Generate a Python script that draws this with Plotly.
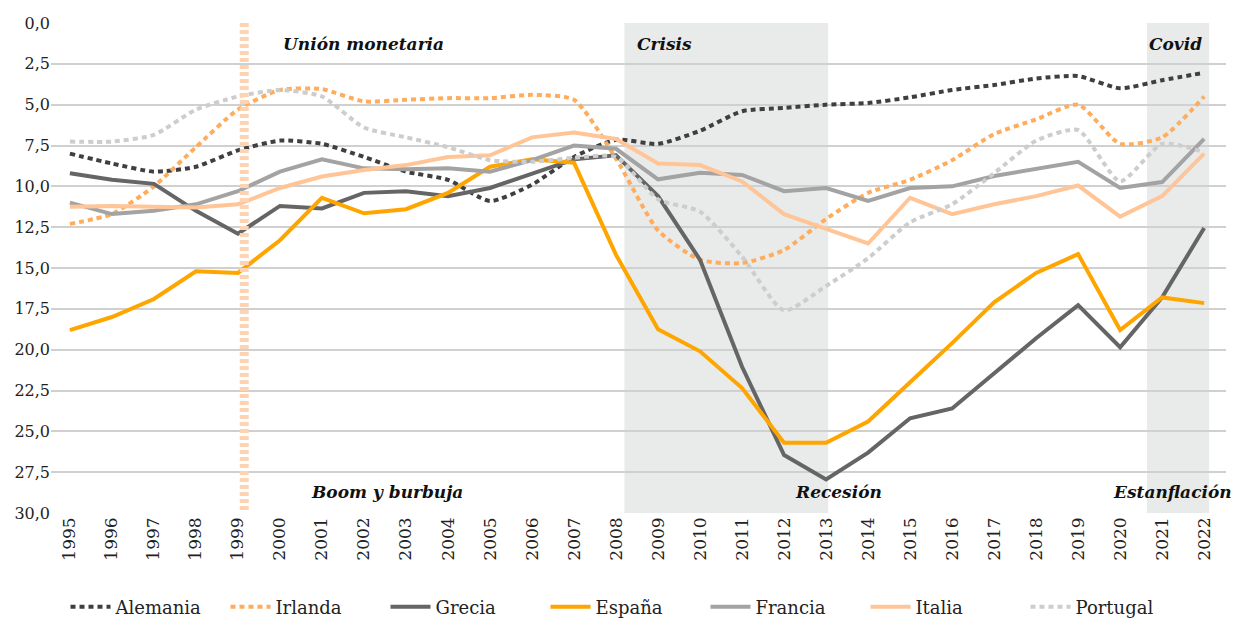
import plotly.graph_objects as go

# Years and series values
years = list(range(1995, 2023))

alemania = [8.0, 8.6, 9.1, 8.8, 7.8, 7.2, 7.4, 8.2, 9.1, 9.6, 10.9, 9.9, 8.2, 7.15,
            7.4, 6.6, 5.4, 5.2, 5.0, 4.9, 4.55, 4.1, 3.8, 3.4, 3.25, 4.0, 3.5, 3.05]
irlanda = [12.3, 11.7, 10.0, 7.6, 5.3, 4.1, 4.05, 4.8, 4.7, 4.6, 4.6, 4.4, 4.7, 8.3,
           12.7, 14.5, 14.7, 13.9, 12.0, 10.4, 9.6, 8.4, 6.8, 5.9, 5.0, 7.4, 7.0, 4.5]
grecia = [9.2, 9.6, 9.85, 11.5, 12.9, 11.2, 11.35, 10.4, 10.3, 10.6, 10.1, 9.2, 8.35, 8.1,
          10.6, 14.5, 21.05, 26.45, 27.95, 26.3, 24.2, 23.6, 21.45, 19.3, 17.27, 19.85, 16.8, 12.55]
espana = [18.8, 18.0, 16.9, 15.2, 15.3, 13.3, 10.7, 11.65, 11.4, 10.4, 8.8, 8.35, 8.55, 14.2,
          18.75, 20.1, 22.35, 25.7, 25.7, 24.4, 22.0, 19.6, 17.1, 15.3, 14.15, 18.8, 16.8, 17.15]
francia = [11.0, 11.7, 11.5, 11.1, 10.3, 9.1, 8.35, 8.9, 8.95, 8.9, 9.1, 8.4, 7.5, 7.7,
           9.57, 9.17, 9.3, 10.3, 10.1, 10.9, 10.1, 10.0, 9.37, 8.96, 8.5, 10.1, 9.74, 7.1]
italia = [11.25, 11.2, 11.25, 11.3, 11.1, 10.1, 9.4, 9.0, 8.7, 8.2, 8.1, 7.0, 6.7, 7.1,
          8.6, 8.7, 9.7, 11.7, 12.6, 13.5, 10.7, 11.7, 11.1, 10.6, 9.95, 11.85, 10.6, 8.0]
portugal = [7.26, 7.26, 6.85, 5.3, 4.5, 4.1, 4.5, 6.4, 7.0, 7.6, 8.4, 8.5, 8.25, 8.2,
            10.8, 11.55, 14.3, 17.6, 16.1, 14.4, 12.2, 11.1, 9.2, 7.2, 6.55, 9.7, 7.4, 7.9]

y_ticks = [0, 2.5, 5, 7.5, 10, 12.5, 15, 17.5, 20, 22.5, 25, 27.5, 30]
y_labels = [f"{v:.1f}".replace(".", ",") for v in y_ticks]

FONT = "DejaVu Serif"

series = [
    ("Alemania", alemania, "#3f3f3f", "dot"),
    ("Irlanda", irlanda, "#ffac5c", "dot"),
    ("Grecia", grecia, "#656565", "solid"),
    ("España", espana, "#ffa500", "solid"),
    ("Francia", francia, "#a3a3a3", "solid"),
    ("Italia", italia, "#ffc597", "solid"),
    ("Portugal", portugal, "#cdcdcd", "dot"),
]

fig = go.Figure()

for name, vals, color, style in series:
    if style == "dot":
        line = dict(color=color, width=4, dash="5px,4px", shape="spline", smoothing=0.6)
    else:
        line = dict(color=color, width=4)
    fig.add_trace(go.Scatter(x=years, y=vals, name=name, mode="lines", line=line))

# shaded periods
for x0, x1 in [(2008.2, 2013.05), (2020.64, 2022.12)]:
    fig.add_shape(type="rect", xref="x", yref="y", x0=x0, x1=x1, y0=0, y1=30,
                  fillcolor="#e9ebea", line_width=0, layer="below")

# euro start marker
fig.add_shape(type="line", xref="x", yref="y", x0=1999.15, x1=1999.15, y0=0, y1=30,
              line=dict(color="#fdd3b3", width=9, dash="4px,3px"), layer="above")

notes = [
    ("Unión monetaria", 2002.0, 1.3, "center"),
    ("Boom y burbuja", 2002.55, 28.7, "center"),
    ("Crisis", 2008.45, 1.3, "left"),
    ("Recesión", 2013.3, 28.7, "center"),
    ("Covid", 2022.0, 1.3, "right"),
    ("Estanflación", 2021.25, 28.7, "center"),
]
for text, x, y, align in notes:
    fig.add_annotation(x=x, y=y, xref="x", yref="y", text=f"<b><i>{text}</i></b>",
                       showarrow=False, xanchor=align,
                       font=dict(family=FONT, size=17, color="#111111"))

# page body adds 8px offset, so the figure is drawn slightly smaller
fig.update_layout(
    width=1235, height=613,
    margin=dict(l=43, r=17, t=15, b=108, autoexpand=False),
    plot_bgcolor="white", paper_bgcolor="white",
    font=dict(family=FONT, size=16, color="#222222"),
    legend=dict(orientation="h", x=0.5, xanchor="center", xref="container",
                y=-0.192, yanchor="middle", yref="paper",
                entrywidth=105, entrywidthmode="pixels",
                font=dict(family=FONT, size=18, color="#222222"), itemwidth=40),
    showlegend=True,
)
fig.update_xaxes(
    range=[1994.55, 2022.52], tickvals=years, ticktext=[str(y) for y in years],
    tickangle=-90, showgrid=False, zeroline=False, showline=False, automargin=False,
    tickfont=dict(family=FONT, size=17, color="#222222"), ticks="",
)
fig.update_yaxes(
    range=[30, 0], tickvals=y_ticks, ticktext=y_labels, automargin=False,
    showgrid=True, gridcolor="#d0d0d0", gridwidth=1.5, zeroline=False, showline=False,
    tickfont=dict(family=FONT, size=16, color="#222222"),
)

fig.write_html("out.html")
